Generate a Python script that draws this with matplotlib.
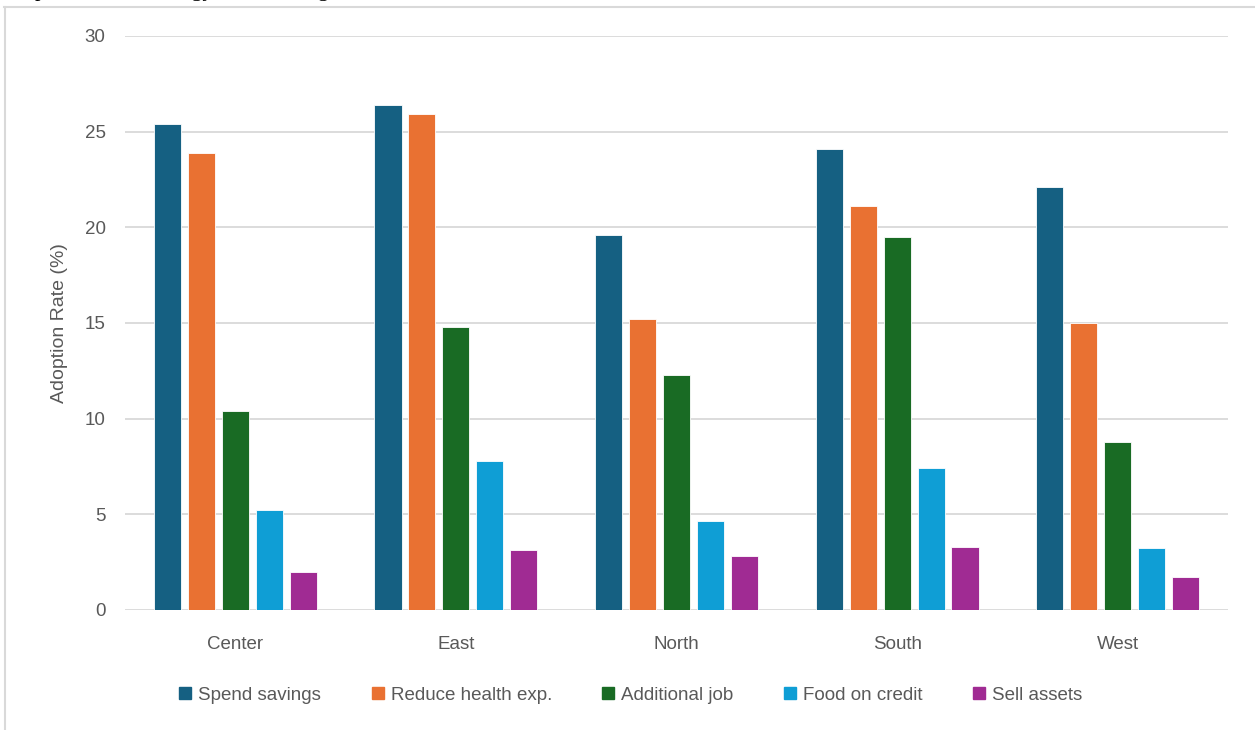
import numpy as np
import matplotlib
matplotlib.use("Agg")
import matplotlib.pyplot as plt
from matplotlib.lines import Line2D

# data
regions = ["Center", "East", "North", "South", "West"]
strategies = ["Spend savings", "Reduce health exp.", "Additional job", "Food on credit", "Sell assets"]
spend_savings = [25.4, 26.4, 19.6, 24.1, 22.1]
reduce_health = [23.9, 25.9, 15.2, 21.1, 15.0]
additional_job = [10.4, 14.8, 12.3, 19.5, 8.8]
food_on_credit = [5.2, 7.8, 4.65, 7.4, 3.25]
sell_assets = [2.0, 3.15, 2.8, 3.3, 1.7]
colors = ["#156082", "#E97132", "#196B24", "#0F9ED5", "#A02B93"]

series = [spend_savings, reduce_health, additional_job, food_on_credit, sell_assets]
sans = ["Liberation Sans", "DejaVu Sans"]
grey = "#595959"

fig = plt.figure(figsize=(12.55, 7.3), dpi=100)
ax = fig.add_axes([0.0996, 0.1644, 0.8789, 0.7863])

x = np.arange(len(regions))
pitch = 0.154
width = 0.123
for i, (vals, c, name) in enumerate(zip(series, colors, strategies)):
    ax.bar(x + (i - 2) * pitch, vals, width, color=c, label=name,
           edgecolor="white", linewidth=0.6, zorder=3)

ax.set_xlim(-0.5, 4.5)
ax.set_ylim(0, 30)
ax.set_yticks(range(0, 31, 5))
ax.set_xticks(x)
ax.set_xticklabels(regions, family=sans, fontsize=13.5, color=grey)
ax.grid(axis="y", color="#D9D9D9", linewidth=1.3, zorder=0)
for s in ax.spines.values():
    s.set_visible(False)
ax.tick_params(axis="y", length=0, pad=14, labelsize=13.5, labelcolor=grey)
ax.tick_params(axis="x", length=0, pad=19)
for t in ax.get_yticklabels():
    t.set_family(sans)
ax.set_ylabel("Adoption Rate (%)", family=sans, fontsize=14, color=grey, labelpad=12)

handles = [Line2D([], [], marker="s", linestyle="", markersize=9, color=c) for c in colors]
fig.legend(handles, strategies, loc="center", bbox_to_anchor=(0.502, 0.048), ncol=5,
           frameon=False, prop={"family": sans, "size": 13.5}, labelcolor=grey,
           handlelength=0.8, handletextpad=0.3, columnspacing=2.6)

# chart frame and the clipped caption line above it
fig.add_artist(Line2D([4 / 1255, 1], [1 - 7 / 730, 1 - 7 / 730], transform=fig.transFigure,
                      color="#D9D9D9", linewidth=1.5))
fig.add_artist(Line2D([5 / 1255, 5 / 1255], [0, 1 - 7 / 730], transform=fig.transFigure,
                      color="#D9D9D9", linewidth=1.5))
fig.text(0.002, 1.012, "adoption of the strategy reveals a significant variation",
         family="Liberation Serif", fontsize=16, va="center", ha="left")

fig.savefig("out.png", dpi=100)
